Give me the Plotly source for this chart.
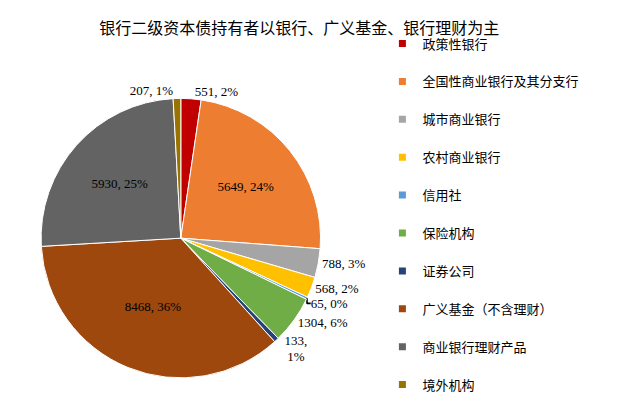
import plotly.graph_objects as go

labels = ["政策性银行", "全国性商业银行及其分支行", "城市商业银行", "农村商业银行", "信用社",
          "保险机构", "证券公司", "广义基金（不含理财）", "商业银行理财产品", "境外机构"]
values = [551, 5649, 788, 568, 65, 1304, 133, 8468, 5930, 207]
texts = ["551, 2%", "5649, 24%", "788, 3%", "568, 2%", "65, 0%",
         "1304, 6%", "133,<br>1%", "8468, 36%", "5930, 25%", "207, 1%"]
colors = ["#C00000", "#ED7D31", "#A5A5A5", "#FFC000", "#5B9BD5",
          "#70AD47", "#264478", "#9E480E", "#636363", "#997300"]
positions = ["outside", "inside", "outside", "outside", "outside",
             "outside", "outside", "inside", "inside", "outside"]

font = "Liberation Serif, Noto Sans CJK SC"

fig = go.Figure()
fig.add_trace(go.Pie(
    labels=labels, values=values, text=texts, textinfo="text",
    textposition=positions, sort=False, direction="clockwise", rotation=0,
    marker=dict(colors=colors, line=dict(color="white", width=1)),
    textfont=dict(family=font, size=13, color="black"),
    insidetextorientation="horizontal",
    domain=dict(x=[0.04, 0.5], y=[0.1, 0.78]), showlegend=False,
))
for i, (lab, c) in enumerate(zip(labels, colors)):
    fig.add_trace(go.Scatter(x=[None], y=[None], mode="markers", name=lab,
                             legendgroup=str(i),
                             marker=dict(symbol="square", size=7, color=c)))

fig.update_layout(
    width=640, height=411, margin=dict(l=0, r=0, t=0, b=0),
    paper_bgcolor="white", plot_bgcolor="white",
    xaxis=dict(visible=False), yaxis=dict(visible=False),
    title=dict(text="银行二级资本债持有者以银行、广义基金、银行理财为主", x=0.455, y=0.965,
               xanchor="center", font=dict(family=font, size=16, color="black")),
    legend=dict(x=0.585, y=0.95, xanchor="left", yanchor="top", tracegroupgap=18,
                font=dict(family=font, size=13, color="black"), itemwidth=30),
    font=dict(family=font),
)
fig.write_html("out.html")
